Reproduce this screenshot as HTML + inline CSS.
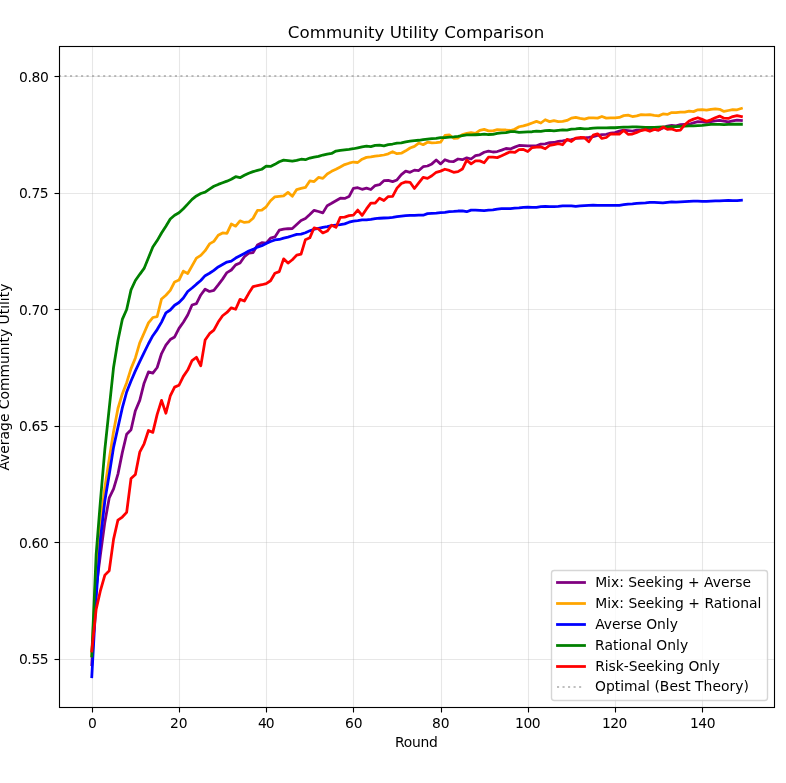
<!DOCTYPE html>
<html lang="en"><head><meta charset="utf-8">
<title>Community Utility Comparison</title>
<style>
html,body{margin:0;padding:0;background:#fff;}
body{width:786px;height:783px;overflow:hidden;}
svg{display:block;}
text{font-family:"DejaVu Sans","Liberation Sans",sans-serif;fill:#000;}
.t10{font-size:13.889px;}
.t12{font-size:16.667px;}
.grid line{stroke:#b0b0b0;stroke-opacity:0.3;stroke-width:1.111;}
.tick line{stroke:#000;stroke-width:1.111;}
.curve{fill:none;stroke-width:2.778;stroke-linejoin:round;stroke-linecap:square;}
.opt{fill:none;stroke:#808080;stroke-opacity:0.5;stroke-width:2.083;stroke-dasharray:2.083 3.437;}
</style></head><body>
<svg width="786" height="783" viewBox="0 0 786 783" role="img" aria-label="Community Utility Comparison">
<rect x="0" y="0" width="786" height="783" fill="#ffffff"/>
<defs><clipPath id="ax"><rect x="59.30" y="46.00" width="714.60" height="661.00"/></clipPath></defs>
<g class="grid">
<line x1="92.5" y1="46.0" x2="92.5" y2="707.0"/>
<line x1="179.5" y1="46.0" x2="179.5" y2="707.0"/>
<line x1="266.5" y1="46.0" x2="266.5" y2="707.0"/>
<line x1="353.5" y1="46.0" x2="353.5" y2="707.0"/>
<line x1="441.5" y1="46.0" x2="441.5" y2="707.0"/>
<line x1="528.5" y1="46.0" x2="528.5" y2="707.0"/>
<line x1="615.5" y1="46.0" x2="615.5" y2="707.0"/>
<line x1="702.5" y1="46.0" x2="702.5" y2="707.0"/>
<line x1="59.3" y1="659.5" x2="773.9" y2="659.5"/>
<line x1="59.3" y1="542.5" x2="773.9" y2="542.5"/>
<line x1="59.3" y1="426.5" x2="773.9" y2="426.5"/>
<line x1="59.3" y1="309.5" x2="773.9" y2="309.5"/>
<line x1="59.3" y1="193.5" x2="773.9" y2="193.5"/>
<line x1="59.3" y1="76.5" x2="773.9" y2="76.5"/>
</g>
<g class="tick">
<line x1="92.5" y1="707.50" x2="92.5" y2="712.50"/>
<line x1="179.5" y1="707.50" x2="179.5" y2="712.50"/>
<line x1="266.5" y1="707.50" x2="266.5" y2="712.50"/>
<line x1="353.5" y1="707.50" x2="353.5" y2="712.50"/>
<line x1="441.5" y1="707.50" x2="441.5" y2="712.50"/>
<line x1="528.5" y1="707.50" x2="528.5" y2="712.50"/>
<line x1="615.5" y1="707.50" x2="615.5" y2="712.50"/>
<line x1="702.5" y1="707.50" x2="702.5" y2="712.50"/>
<line x1="54.50" y1="659.5" x2="59.50" y2="659.5"/>
<line x1="54.50" y1="542.5" x2="59.50" y2="542.5"/>
<line x1="54.50" y1="426.5" x2="59.50" y2="426.5"/>
<line x1="54.50" y1="309.5" x2="59.50" y2="309.5"/>
<line x1="54.50" y1="193.5" x2="59.50" y2="193.5"/>
<line x1="54.50" y1="76.5" x2="59.50" y2="76.5"/>
</g>
<g>
<text class="t10" text-anchor="middle" textLength="8.94" lengthAdjust="spacing" x="92.37" y="728.00">0</text>
<text class="t10" text-anchor="middle" textLength="17.43" lengthAdjust="spacing" x="178.75" y="728.00">20</text>
<text class="t10" text-anchor="middle" textLength="16.35" lengthAdjust="spacing" x="266.28" y="728.00">40</text>
<text class="t10" text-anchor="middle" textLength="17.69" lengthAdjust="spacing" x="353.75" y="728.00">60</text>
<text class="t10" text-anchor="middle" textLength="17.46" lengthAdjust="spacing" x="440.84" y="728.00">80</text>
<text class="t10" text-anchor="middle" textLength="25.43" lengthAdjust="spacing" x="527.79" y="728.00">100</text>
<text class="t10" text-anchor="middle" textLength="25.31" lengthAdjust="spacing" x="614.59" y="728.00">120</text>
<text class="t10" text-anchor="middle" textLength="25.53" lengthAdjust="spacing" x="702.69" y="728.00">140</text>
<text class="t10" text-anchor="end" textLength="29.74" lengthAdjust="spacing" x="48.67" y="664.00">0.55</text>
<text class="t10" text-anchor="end" textLength="29.83" lengthAdjust="spacing" x="48.78" y="548.00">0.60</text>
<text class="t10" text-anchor="end" textLength="29.83" lengthAdjust="spacing" x="48.76" y="431.00">0.65</text>
<text class="t10" text-anchor="end" textLength="29.69" lengthAdjust="spacing" x="48.65" y="315.00">0.70</text>
<text class="t10" text-anchor="end" textLength="29.71" lengthAdjust="spacing" x="48.64" y="198.00">0.75</text>
<text class="t10" text-anchor="end" textLength="29.78" lengthAdjust="spacing" x="48.75" y="82.00">0.80</text>
</g>
<g clip-path="url(#ax)">
<polyline class="curve" stroke="#800080" points="91.78,664.66 96.14,587.93 100.5,554.11 104.86,522.15 109.22,497.9 113.58,488.8 117.94,474.11 122.3,452.65 126.66,434.22 131.02,429.79 135.38,410.67 139.74,400.4 144.1,383.14 148.46,371.95 152.82,373.11 157.18,367.52 161.54,353.52 165.9,345.13 170.26,339.53 174.62,336.96 178.98,328.33 183.34,322.27 187.7,315.04 192.06,305.01 196.42,303.61 200.78,294.98 205.14,289.15 209.5,291.48 213.86,290.31 218.22,284.95 222.58,279.12 226.94,272.59 231.3,270.02 235.66,264.89 240.02,263.03 244.38,256.73 248.74,253.23 253.1,252.53 257.46,245.07 261.82,242.73 266.18,243.2 270.54,238.07 274.9,236.9 279.26,230.14 283.62,229.21 287.98,228.74 292.34,228.51 296.7,224.54 301.06,220.58 305.42,218.48 309.78,214.51 314.14,210.31 318.5,211.48 322.86,212.88 327.22,205.65 331.58,203.32 335.94,200.75 340.3,198.18 344.66,198.42 349.02,196.55 353.38,188.39 357.74,187.69 362.1,189.32 366.46,188.16 370.82,189.55 375.18,185.59 379.54,184.66 383.9,180.69 388.26,180.46 392.62,181.62 396.98,179.99 401.34,174.63 405.7,171.13 410.06,172.29 414.42,170.13 418.78,170.53 423.14,166.7 427.5,166 431.86,163.9 436.22,159.93 440.58,163.9 444.94,159.7 449.3,161.33 453.66,161.57 458.02,159 462.38,159.7 466.74,157.83 471.1,159 475.46,155.73 479.82,154.8 484.18,152.24 488.54,151.07 492.9,152 497.26,151.54 501.62,150.14 505.98,148.5 510.34,148.97 514.7,147.1 519.06,145.47 523.42,145.71 527.78,145.94 532.14,145.94 536.5,145.84 540.86,144.17 545.22,143.91 549.58,142.71 553.94,142.47 558.3,141.34 562.66,140.81 567.02,140.11 571.38,139.64 575.74,138.48 580.1,138.01 584.46,137.78 588.82,137.31 593.18,136.61 597.54,135.44 601.9,134.74 606.26,134.28 610.62,133.11 614.98,132.64 619.34,131.13 623.7,130.08 628.06,130.54 632.42,131.01 636.78,130.08 641.14,129.85 645.5,129.38 649.86,129.61 654.22,129.38 658.58,130.08 662.94,127.98 667.3,126.11 671.66,125.41 676.02,125.88 680.38,124.71 684.74,124.48 689.1,124.25 693.46,122.85 697.82,121.68 702.18,121.92 706.54,122.38 710.9,121.68 715.26,120.98 719.62,120.28 723.98,121.22 728.34,121.92 732.7,120.98 737.06,120.05 741.42,120.52"/>
<polyline class="curve" stroke="#ffa500" points="91.78,656.03 96.14,572.07 100.5,521.61 104.86,487.46 109.22,459.16 113.58,431.45 117.94,408.5 122.3,393.93 126.66,382.64 131.02,368.62 135.38,357.92 139.74,342.9 144.1,333 148.46,322.87 152.82,317.51 157.18,316.53 161.54,298.95 165.9,295.2 170.26,290.37 174.62,281.95 178.98,280.06 183.34,271.1 187.7,273.52 192.06,265.93 196.42,258.13 200.78,255.33 205.14,250.66 209.5,243.9 213.86,241.33 218.22,235.27 222.58,232.94 226.94,233.4 231.3,224.07 235.66,226.17 240.02,220.81 244.38,222.44 248.74,221.98 253.1,218.24 257.46,210.31 261.82,210.08 266.18,206.81 270.54,200.75 274.9,196.79 279.26,196.32 283.62,195.85 287.98,192.35 292.34,196.32 296.7,189.55 301.06,188.39 305.42,187.46 309.78,180.92 314.14,181.62 318.5,177.43 322.86,178.36 327.22,173.93 331.58,171.36 335.94,169.26 340.3,166.93 344.66,164.6 349.02,163.2 353.38,162.03 357.74,162.5 362.1,159.23 366.46,157.37 370.82,156.83 375.18,156.13 379.54,155.67 383.9,155 388.26,153.8 392.62,151.66 396.98,153.72 401.34,153.21 405.7,150.84 410.06,147.97 414.42,146.34 418.78,143.07 423.14,144.71 427.5,142.21 431.86,142.91 436.22,142.67 440.58,142.21 444.94,135.44 449.3,134.98 453.66,138.26 458.02,138.04 462.38,134.54 466.74,133.38 471.1,132.68 475.46,133.38 479.82,130.35 484.18,129.41 488.54,130.81 492.9,130.81 497.26,129.61 501.62,129.78 505.98,130.01 510.34,130.48 514.7,129.31 519.06,126.75 523.42,125.81 527.78,124.65 532.14,123.01 536.5,121.38 540.86,123.01 545.22,119.75 549.58,121.62 553.94,120.68 558.3,121.62 562.66,121.38 567.02,120.45 571.38,118.12 575.74,117.42 580.1,118.35 584.46,119.05 588.82,117.88 593.18,117.88 597.54,118.12 601.9,116.48 606.26,118.12 610.62,117.88 614.98,117.88 619.34,117.45 623.7,115.62 628.06,115.15 632.42,116.55 636.78,115.85 641.14,114.68 645.5,114.92 649.86,114.68 654.22,115.38 658.58,115.85 662.94,113.98 667.3,114.45 671.66,112.59 676.02,112.59 680.38,112.12 684.74,112.12 689.1,111.19 693.46,111.65 697.82,109.79 702.18,109.55 706.54,110.02 710.9,109.32 715.26,108.85 719.62,109.32 723.98,111.42 728.34,110.49 732.7,109.55 737.06,109.79 741.42,108.39"/>
<polyline class="curve" stroke="#0000ff" points="91.78,676.79 96.14,597.96 100.5,538.67 104.86,500.79 109.22,474.45 113.58,447.12 117.94,427.36 122.3,407.93 126.66,392 131.02,381.01 135.38,370.91 139.74,361.61 144.1,352.7 148.46,343.75 152.82,335.69 157.18,329.57 161.54,322.1 165.9,312.92 170.26,309.98 174.62,305.24 178.98,302.47 183.34,298.08 187.7,291.52 192.06,288.02 196.42,284.19 200.78,280.55 205.14,275.69 209.5,273.26 213.86,270.36 218.22,266.92 222.58,264.52 226.94,262.03 231.3,261.03 235.66,258.06 240.02,255.73 244.38,253.4 248.74,251.06 253.1,249.4 257.46,247.07 261.82,245.67 266.18,243.5 270.54,241.57 274.9,239.93 279.26,239.47 283.62,238.07 287.98,237.14 292.34,235.74 296.7,234.34 301.06,234.1 305.42,232.7 309.78,230.84 314.14,229.21 318.5,228.27 322.86,227.34 327.22,226.64 331.58,225.71 335.94,225.01 340.3,224.54 344.66,223.84 349.02,222.21 353.38,221.04 357.74,220.58 362.1,219.88 366.46,219.88 370.82,219.41 375.18,218.71 379.54,218.24 383.9,218.01 388.26,217.78 392.62,217.31 396.98,216.61 401.34,216.14 405.7,215.68 410.06,215.44 414.42,215.44 418.78,215.21 423.14,215.21 427.5,213.58 431.86,213.35 436.22,213.11 440.58,212.65 444.94,212.41 449.3,211.71 453.66,211.48 458.02,211.01 462.38,210.78 466.74,211.71 471.1,210.08 475.46,210.08 479.82,210.31 484.18,210.55 488.54,210.08 492.9,209.85 497.26,209.15 501.62,208.68 505.98,208.68 510.34,208.68 514.7,208.21 519.06,207.98 523.42,207.28 527.78,207.05 532.14,207.28 536.5,207.28 540.86,206.58 545.22,206.35 549.58,206.58 553.94,206.58 558.3,206.35 562.66,205.88 567.02,205.88 571.38,205.88 575.74,206.35 580.1,205.88 584.46,205.65 588.82,205.41 593.18,205.18 597.54,205.41 601.9,205.41 606.26,205.41 610.62,205.41 614.98,205.41 619.34,205.41 623.7,204.72 628.06,204.02 632.42,203.78 636.78,203.32 641.14,203.08 645.5,202.85 649.86,202.38 654.22,202.38 658.58,202.62 662.94,202.85 667.3,202.38 671.66,201.92 676.02,202.15 680.38,201.92 684.74,201.68 689.1,201.45 693.46,201.22 697.82,201.22 702.18,201.45 706.54,201.45 710.9,201.22 715.26,200.98 719.62,200.98 723.98,200.52 728.34,200.28 732.7,200.52 737.06,200.52 741.42,200.28"/>
<polyline class="curve" stroke="#008000" points="91.78,656.03 96.14,554.5 100.5,499.99 104.86,449.41 109.22,408.43 113.58,367.18 117.94,340.41 122.3,319.43 126.66,309.52 131.02,289.88 135.38,280.49 139.74,274.3 144.1,268.44 148.46,257.73 152.82,247.07 157.18,240.57 161.54,232.97 165.9,226.17 170.26,219.01 174.62,215.28 178.98,212.78 183.34,208.75 187.7,204.15 192.06,199.42 196.42,195.92 200.78,193.49 205.14,192.12 209.5,189.09 213.86,186.29 218.22,184.42 222.58,182.79 226.94,181.16 231.3,179.29 235.66,176.73 240.02,177.66 244.38,175.33 248.74,173.23 253.1,171.6 257.46,170.43 261.82,169.26 266.18,166.23 270.54,166.46 274.9,164.36 279.26,161.8 283.62,160.17 287.98,160.63 292.34,161.1 296.7,160.4 301.06,159.23 305.42,159.7 309.78,158.07 314.14,157.13 318.5,156.43 322.86,155.04 327.22,154.1 331.58,153.4 335.94,151.07 340.3,150.37 344.66,149.9 349.02,149.44 353.38,148.74 357.74,147.8 362.1,146.87 366.46,146.14 370.82,146.57 375.18,145.41 379.54,145.17 383.9,145.87 388.26,144.71 392.62,144.01 396.98,143.07 401.34,142.79 405.7,141.81 410.06,141.06 414.42,140.54 418.78,140.26 423.14,139.74 427.5,139.22 431.86,138.71 436.22,138.48 440.58,137.54 444.94,137.54 449.3,137.08 453.66,136.84 458.02,136.38 462.38,135.68 466.74,134.98 471.1,134.98 475.46,134.74 479.82,134.51 484.18,134.04 488.54,134.51 492.9,134.28 497.26,133.34 501.62,132.88 505.98,132.64 510.34,131.71 514.7,131.73 519.06,132.44 523.42,132.21 527.78,131.98 532.14,131.74 536.5,131.04 540.86,131.36 545.22,130.74 549.58,130.3 553.94,130.79 558.3,130.35 562.66,129.91 567.02,130.11 571.38,129.15 575.74,128.91 580.1,128.45 584.46,128.91 588.82,128.68 593.18,128.21 597.54,127.98 601.9,127.98 606.26,127.98 610.62,127.75 614.98,127.75 619.34,127.4 623.7,127.05 628.06,127.05 632.42,126.81 636.78,126.81 641.14,127.05 645.5,127.28 649.86,127.28 654.22,127.28 658.58,127.05 662.94,126.81 667.3,126.81 671.66,126.58 676.02,126.58 680.38,126.35 684.74,126.11 689.1,125.88 693.46,125.88 697.82,125.65 702.18,125.41 706.54,124.95 710.9,124.48 715.26,124.48 719.62,124.48 723.98,124.71 728.34,124.48 732.7,124.25 737.06,124.25 741.42,124.25"/>
<polyline class="curve" stroke="#ff0000" points="91.78,650.9 96.14,609.39 100.5,590.26 104.86,575.1 109.22,570.67 113.58,539.18 117.94,520.06 122.3,517.02 126.66,512.36 131.02,478.54 135.38,474.57 139.74,452.18 144.1,443.79 148.46,430.49 152.82,432.36 157.18,414.4 161.54,400.4 165.9,413.23 170.26,395.97 174.62,387.11 178.98,385.24 183.34,376.38 187.7,370.08 192.06,360.52 196.42,357.25 200.78,365.88 205.14,339.99 209.5,333.7 213.86,330.2 218.22,322.03 222.58,315.74 226.94,312.47 231.3,307.81 235.66,309.21 240.02,299.41 244.38,301.04 248.74,293.35 253.1,286.58 257.46,285.65 261.82,284.72 266.18,283.55 270.54,280.75 274.9,273.29 279.26,271.66 283.62,258.83 287.98,263.03 292.34,259.76 296.7,255.1 301.06,254.16 305.42,239.7 309.78,237.84 314.14,227.81 318.5,228.97 322.86,232.94 327.22,231.07 331.58,225.24 335.94,227.34 340.3,217.31 344.66,217.08 349.02,215.68 353.38,215.21 357.74,210.08 362.1,215.44 366.46,208.91 370.82,203.08 375.18,203.08 379.54,198.18 383.9,200.52 388.26,196.55 392.62,196.32 396.98,188.16 401.34,183.49 405.7,181.86 410.06,182.32 414.42,188.49 418.78,182.89 423.14,177.43 427.5,178.36 431.86,175.79 436.22,172.29 440.58,171.13 444.94,169.26 449.3,170.43 453.66,172.29 458.02,171.6 462.38,169.03 466.74,160.17 471.1,163.9 475.46,160.87 479.82,160.87 484.18,162.73 488.54,157.13 492.9,157.13 497.26,157.6 501.62,155.73 505.98,153.64 510.34,151.77 514.7,152.47 519.06,149.67 523.42,149.44 527.78,151.54 532.14,147.57 536.5,147.1 540.86,146.87 545.22,148.74 549.58,145.47 553.94,144.54 558.3,143.71 562.66,144.74 567.02,139.37 571.38,141.47 575.74,138.21 580.1,137.51 584.46,137.74 588.82,141.71 593.18,135.18 597.54,133.78 601.9,138.44 606.26,137.51 610.62,134.01 614.98,134.08 619.34,134.14 623.7,130.54 628.06,134.28 632.42,134.04 636.78,132.41 641.14,130.54 645.5,129.61 649.86,131.24 654.22,129.38 658.58,130.08 662.94,127.05 667.3,129.38 671.66,128.91 676.02,130.54 680.38,130.08 684.74,124.71 689.1,120.98 693.46,119.12 697.82,117.72 702.18,119.35 706.54,121.22 710.9,119.82 715.26,117.72 719.62,116.08 723.98,118.18 728.34,118.42 732.7,116.55 737.06,115.62 741.42,116.55"/>
<line class="opt" x1="58.97" y1="76.00" x2="773.90" y2="76.00"/>
</g>
<rect x="59.5" y="46.5" width="715.0" height="661.0" fill="none" stroke="#000" stroke-width="1.111" stroke-linejoin="miter"/>
<text class="t12" text-anchor="middle" textLength="256.42" lengthAdjust="spacing" x="416.05" y="38.00">Community Utility Comparison</text>
<text class="t10" text-anchor="middle" textLength="42.66" lengthAdjust="spacing" x="416.45" y="747.00">Round</text>
<text class="t10" text-anchor="middle" textLength="186.98" lengthAdjust="spacing" transform="translate(9.00 377.10) rotate(-90)">Average Community Utility</text>
<rect x="551.50" y="570.50" width="216.00" height="130.00" rx="2.78" ry="2.78" fill="#ffffff" fill-opacity="0.8" stroke="#cccccc" stroke-opacity="0.8" stroke-width="1.389"/>
<line class="curve" style="stroke-linecap:butt" stroke="#800080" x1="556.10" y1="582.5" x2="585.90" y2="582.5"/>
<line class="curve" style="stroke-linecap:butt" stroke="#ffa500" x1="556.10" y1="603.5" x2="585.90" y2="603.5"/>
<line class="curve" style="stroke-linecap:butt" stroke="#0000ff" x1="556.10" y1="624.5" x2="585.90" y2="624.5"/>
<line class="curve" style="stroke-linecap:butt" stroke="#008000" x1="556.10" y1="645.5" x2="585.90" y2="645.5"/>
<line class="curve" style="stroke-linecap:butt" stroke="#ff0000" x1="556.10" y1="666.5" x2="585.90" y2="666.5"/>
<line class="opt" x1="557.00" y1="687.0" x2="584.30" y2="687.0"/>
<g>
<text class="t10" text-anchor="start" textLength="155.81" lengthAdjust="spacing" x="595.13" y="587.00">Mix: Seeking + Averse</text>
<text class="t10" text-anchor="start" textLength="166.21" lengthAdjust="spacing" x="595.18" y="608.00">Mix: Seeking + Rational</text>
<text class="t10" text-anchor="start" textLength="82.77" lengthAdjust="spacing" x="595.13" y="629.00">Averse Only</text>
<text class="t10" text-anchor="start" textLength="93.09" lengthAdjust="spacing" x="595.07" y="650.00">Rational Only</text>
<text class="t10" text-anchor="start" textLength="124.92" lengthAdjust="spacing" x="595.16" y="671.00">Risk-Seeking Only</text>
<text class="t10" text-anchor="start" textLength="153.84" lengthAdjust="spacing" x="594.98" y="691.00">Optimal (Best Theory)</text>
</g>
</svg>
</body></html>
